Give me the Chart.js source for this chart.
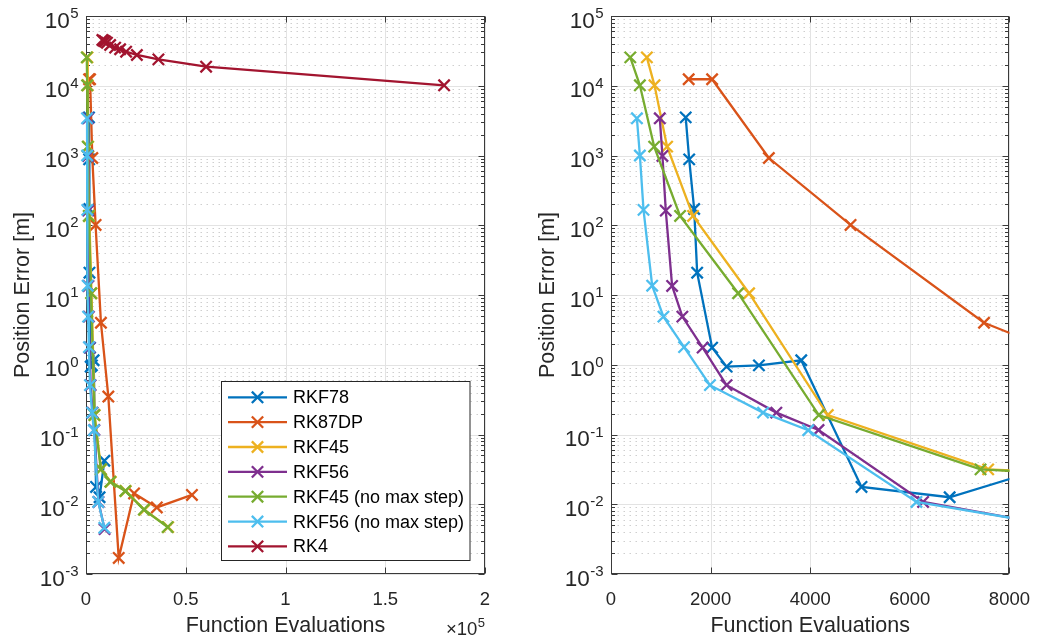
<!DOCTYPE html>
<html><head><meta charset="utf-8">
<script src="https://cdn.jsdelivr.net/npm/chart.js@4.4.0/dist/chart.umd.min.js"></script>
<style>
html,body{margin:0;padding:0;background:#fff;}
body{width:1037px;height:642px;position:relative;overflow:hidden;}
#w1{position:absolute;left:0;top:0;width:518px;height:642px;}
#w2{position:absolute;left:525px;top:0;width:512px;height:642px;}
</style></head><body>
<div id="w1"><canvas id="c1"></canvas></div>
<div id="w2"><canvas id="c2"></canvas></div>
<script>
// ---------------- data ----------------
const seriesNames = ['RKF78', 'RK87DP', 'RKF45', 'RKF56', 'RKF45 (no max step)', 'RKF56 (no max step)', 'RK4'];
const seriesColors = ['#0072BD', '#D95319', '#EDB120', '#7E2F8E', '#77AC30', '#4DBEEE', '#A2142F'];

const rkf78Evals = [1500, 1570, 1670, 1730, 2030, 2320, 2970, 3820, 5030, 6800, 9200];
const rkf78Err   = [3520, 880, 171, 20.9, 1.76, 0.94, 0.98, 1.16, 0.0177, 0.0126, 0.042];

const rk87dpEvals = [1560, 2030, 3170, 4810, 7490, 11200, 16400, 24100, 35500, 53100];
const rk87dpErr   = [12400, 12400, 920, 101, 4.0, 0.35, 0.0017, 0.0143, 0.0090, 0.0136];

const rkf45Evals = [720, 873, 1127, 1647, 2773, 4353, 7573, 12400, 19900, 29300, 41200];
const rkf45Err   = [25500, 10140, 1340, 136, 10.6, 0.19, 0.0316, 0.021, 0.0155, 0.0083, 0.0047];

const rkf56Evals = [980, 1033, 1100, 1227, 1433, 1840, 2320, 3320, 4167, 6267, 9300];
const rkf56Err   = [3410, 985, 162, 13.5, 4.9, 1.76, 0.51, 0.206, 0.116, 0.0108, 0.0044];

const rkf45nmEvals = [387, 580, 867, 1387, 2553, 4173, 7420, 12200, 19700, 29000, 40900];
const rkf45nmErr   = [25500, 10140, 1340, 136, 10.6, 0.19, 0.0316, 0.021, 0.0155, 0.0084, 0.0047];

const rkf56nmEvals = [520, 580, 653, 827, 1053, 1467, 1987, 3053, 3960, 6133, 9200];
const rkf56nmErr   = [3410, 1000, 166, 13.6, 4.9, 1.79, 0.51, 0.206, 0.115, 0.0108, 0.0046];

const rk4Evals = [8200, 8900, 9600, 10500, 12100, 14600, 17100, 20100, 25500, 36300, 60200, 179500];
const rk4Err   = [45300, 44300, 43000, 41400, 38400, 35200, 33400, 30800, 27600, 23900, 18750, 10140];

const allEvals = [rkf78Evals, rk87dpEvals, rkf45Evals, rkf56Evals, rkf45nmEvals, rkf56nmEvals, rk4Evals];
const allErr   = [rkf78Err, rk87dpErr, rkf45Err, rkf56Err, rkf45nmErr, rkf56nmErr, rk4Err];

const leftXTicks  = [0, 50000, 100000, 150000, 200000];
const leftXLabels = ['0', '0.5', '1', '1.5', '2'];
const rightXTicks  = [0, 2000, 4000, 6000, 8000];
const rightXLabels = ['0', '2000', '4000', '6000', '8000'];
const yExponents = [-3, -2, -1, 0, 1, 2, 3, 4, 5];

// ---------------- helpers ----------------
const FAM = '"Liberation Sans", Arial, Helvetica, sans-serif';
Chart.defaults.font.family = FAM;
const TXT = '#262626';

const yMinorVals = [];
for (let k = -3; k < 5; k++) for (let m = 2; m <= 9; m++) yMinorVals.push(m * Math.pow(10, k));
const yMajorVals = yExponents.map(e => Math.pow(10, e));

function makeDatasets(clipRight) {
  return seriesNames.map((name, i) => ({
    label: name,
    data: allEvals[i].map((x, j) => ({x: x, y: allErr[i][j]})),
    borderColor: seriesColors[i],
    backgroundColor: seriesColors[i],
    pointBorderColor: seriesColors[i],
    pointBackgroundColor: seriesColors[i],
    borderWidth: 2.3,
    pointStyle: 'crossRot',
    pointRadius: 8,
    pointBorderWidth: 2.3,
    tension: 0,
    order: -i,
    clip: {left: 10, top: 10, bottom: 10, right: clipRight}
  }));
}

const axesPlugin = {
  id: 'matlabAxes',
  beforeDatasetsDraw(chart) {
    const ctx = chart.ctx, a = chart.chartArea;
    const xs = chart.scales.x, ys = chart.scales.y;
    const L = Math.round(a.left) + 0.5, R = Math.round(a.right) - 0.5;
    const T = Math.round(a.top) + 0.5, B = Math.round(a.bottom) - 0.5;
    ctx.save();
    ctx.strokeStyle = '#cfcfcf';
    ctx.lineWidth = 1;
    ctx.setLineDash([1.5, 4.5]);
    yMinorVals.forEach(v => {
      const y = Math.round(ys.getPixelForValue(v)) + 0.5;
      ctx.beginPath(); ctx.moveTo(L, y); ctx.lineTo(R, y); ctx.stroke();
    });
    ctx.setLineDash([]);
    ctx.strokeStyle = '#e3e3e3';
    yMajorVals.forEach(v => {
      const y = Math.round(ys.getPixelForValue(v)) + 0.5;
      ctx.beginPath(); ctx.moveTo(L, y); ctx.lineTo(R, y); ctx.stroke();
    });
    chart.$xTicks.forEach(v => {
      const x = Math.round(xs.getPixelForValue(v)) + 0.5;
      ctx.beginPath(); ctx.moveTo(x, T); ctx.lineTo(x, B); ctx.stroke();
    });
    ctx.strokeStyle = '#3a3a3a';
    ctx.strokeRect(L, T, R - L, B - T);
    ctx.beginPath();
    yMajorVals.forEach(v => {
      const y = Math.round(ys.getPixelForValue(v)) + 0.5;
      ctx.moveTo(L, y); ctx.lineTo(L + 6, y);
      ctx.moveTo(R, y); ctx.lineTo(R - 6, y);
    });
    yMinorVals.forEach(v => {
      const y = Math.round(ys.getPixelForValue(v)) + 0.5;
      ctx.moveTo(L, y); ctx.lineTo(L + 3.5, y);
      ctx.moveTo(R, y); ctx.lineTo(R - 3.5, y);
    });
    chart.$xTicks.forEach(v => {
      const x = Math.round(xs.getPixelForValue(v)) + 0.5;
      ctx.moveTo(x, B); ctx.lineTo(x, B - 6);
      ctx.moveTo(x, T); ctx.lineTo(x, T + 6);
    });
    ctx.stroke();
    ctx.restore();
  },
  afterDraw(chart) {
    const ctx = chart.ctx, a = chart.chartArea, ys = chart.scales.y;
    ctx.save();
    ctx.fillStyle = TXT;
    ctx.textAlign = 'right';
    ctx.textBaseline = 'alphabetic';
    yExponents.forEach(e => {
      const y = ys.getPixelForValue(Math.pow(10, e));
      const xr = a.left - 7.5;
      const es = String(e);
      ctx.font = '15px ' + FAM;
      const ew = ctx.measureText(es).width;
      ctx.fillText(es, xr, y + 2);
      ctx.font = '22.5px ' + FAM;
      ctx.fillText('10', xr - ew - 0.5, y + 11.5);
    });
    ctx.restore();
  }
};

const extrasPlugin = {
  id: 'leftExtras',
  afterDraw(chart) {
    const ctx = chart.ctx;
    ctx.save();
    ctx.fillStyle = TXT;
    ctx.textAlign = 'right';
    ctx.textBaseline = 'alphabetic';
    ctx.font = '13px ' + FAM;
    const ew = ctx.measureText('5').width;
    ctx.fillText('5', 485, 627);
    ctx.font = '18.5px ' + FAM;
    ctx.fillText('\u00d710', 485 - ew - 0.5, 635);
    const bx = 221.5, by = 381.5, bw = 248.5, bh = 179;
    ctx.fillStyle = '#fff';
    ctx.fillRect(bx, by, bw, bh);
    ctx.strokeStyle = '#262626';
    ctx.lineWidth = 1;
    ctx.strokeRect(bx, by, bw, bh);
    ctx.font = '18px ' + FAM;
    ctx.textAlign = 'left';
    ctx.textBaseline = 'middle';
    chart.data.datasets.forEach((ds, i) => {
      const y = 397.3 + i * 24.85;
      ctx.strokeStyle = ds.borderColor;
      ctx.lineWidth = 2.3;
      ctx.beginPath(); ctx.moveTo(228, y); ctx.lineTo(287, y); ctx.stroke();
      const r = 8 * Math.SQRT1_2;
      ctx.beginPath();
      ctx.moveTo(257.5 - r, y - r); ctx.lineTo(257.5 + r, y + r);
      ctx.moveTo(257.5 - r, y + r); ctx.lineTo(257.5 + r, y - r);
      ctx.stroke();
      ctx.fillStyle = '#000';
      ctx.fillText(ds.label, 293, y + 1);
    });
    ctx.restore();
  }
};

function makeOptions(xmax, xTicks, xLabels, padRight) {
  return {
    responsive: true,
    maintainAspectRatio: false,
    animation: false,
    events: [],
    layout: {padding: {left: 0, right: padRight, top: 16, bottom: 0}},
    plugins: {legend: {display: false}, tooltip: {enabled: false}},
    scales: {
      x: {
        type: 'linear', min: 0, max: xmax, position: 'bottom',
        afterBuildTicks: s => { s.ticks = xTicks.map(v => ({value: v})); },
        ticks: {
          autoSkip: false, maxRotation: 0, padding: 7, color: TXT,
          font: {size: 18.5},
          callback: (v) => { const i = xTicks.indexOf(v); return i >= 0 ? xLabels[i] : ''; }
        },
        grid: {display: false},
        border: {display: false},
        title: {display: true, text: 'Function Evaluations', color: TXT, font: {size: 21.5}, padding: {top: 0, bottom: 3}},
        afterFit: s => { s.height = 68; }
      },
      y: {
        type: 'logarithmic', min: 1e-3, max: 1e5, position: 'left',
        afterBuildTicks: s => { s.ticks = yMajorVals.map(v => ({value: v})); },
        ticks: {display: false},
        grid: {display: false},
        border: {display: false},
        title: {display: true, text: 'Position Error [m]', color: TXT, font: {size: 21.5}, padding: {top: 10, bottom: 0}},
        afterFit: s => { s.width = 86; }
      }
    }
  };
}

const chart1 = new Chart(document.getElementById('c1'), {
  type: 'line',
  data: {datasets: makeDatasets(10)},
  options: makeOptions(200000, leftXTicks, leftXLabels, 33),
  plugins: [{id: 'setTicks1', beforeInit(c) { c.$xTicks = leftXTicks; }}, axesPlugin, extrasPlugin]
});

const chart2 = new Chart(document.getElementById('c2'), {
  type: 'line',
  data: {datasets: makeDatasets(0)},
  options: makeOptions(8000, rightXTicks, rightXLabels, 26),
  plugins: [{id: 'setTicks2', beforeInit(c) { c.$xTicks = rightXTicks; }}, axesPlugin]
});
</script>
</body></html>
